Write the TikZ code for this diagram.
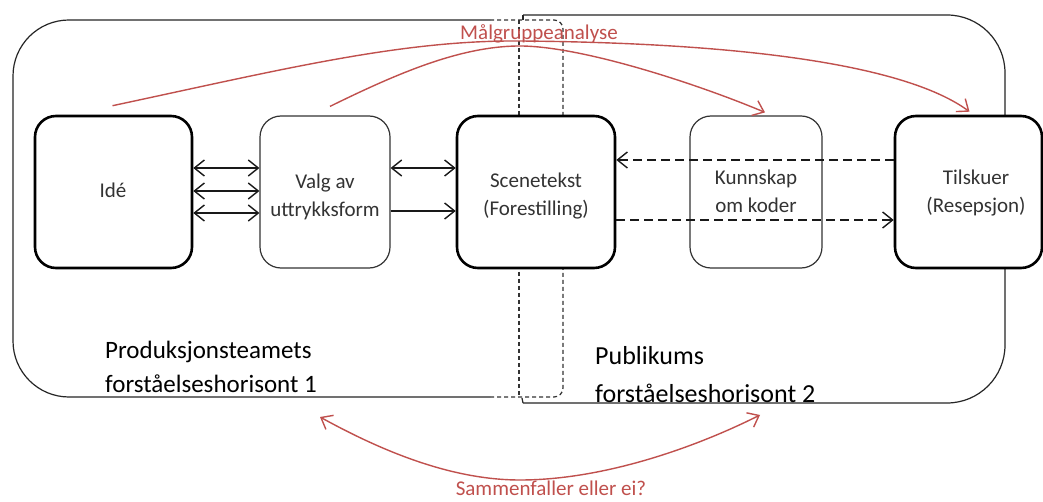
\documentclass[tikz,border=0pt]{standalone}
\usepackage{fontspec}
\setmainfont{Carlito}
\usetikzlibrary{arrows.meta,calc}
\definecolor{redc}{HTML}{C0504D}
\definecolor{txt}{HTML}{333333}
\tikzset{
  thickbox/.style={draw=black,line width=2.6pt,rounded corners=21pt,fill=white,inner sep=0pt},
  thinbox/.style={draw=black!80,line width=1.2pt,rounded corners=21pt,fill=white,inner sep=0pt},
  boxtext/.style={text=txt,font=\fontsize{21}{28}\selectfont,inner sep=0pt,anchor=base},
  horiz/.style={line width=1.2pt,draw=black!85},
  overlap/.style={line width=1.2pt,draw=black!80,dash pattern=on 4pt off 3pt},
  conn/.style={line width=1.4pt,draw=black!90},
  dconn/.style={line width=1.4pt,draw=black!90,dash pattern=on 9pt off 5pt},
  redarrow/.style={line width=1.4pt,draw=redc},
  bigtext/.style={inner sep=0pt,anchor=base west},
  redtext/.style={text=redc,inner sep=0pt,anchor=base}
}
\begin{document}
\begin{tikzpicture}[x=1pt,y=-1pt,>={Straight Barb[length=10pt,width=16pt]}]
\useasboundingbox (0,0) rectangle (1043,502);
\clip (0,0) rectangle (1043,502);
\fill[white] (0,0) rectangle (1043,502);
% horizon 1
\draw[horiz,rounded corners=56pt] (490,20) -- (13,20) -- (13,397) -- (490,397);
\draw[overlap,rounded corners=9pt] (490,20) -- (563,20) -- (563,397) -- (490,397);
\draw[overlap] (519,20) -- (519,397);
% horizon 2
\draw[horiz] (523,20) -- (523,15);
\draw[horiz,rounded corners=58pt] (523,15) -- (1005,15) -- (1005,403) -- (523,403);
\draw[horiz] (523,403) -- (522,398);
% boxes
\node[thickbox,minimum width=157pt,minimum height=152pt] (ide) at (113.5,192) {};
\node[thinbox,minimum width=130pt,minimum height=152pt] (valg) at (325,192) {};
\node[thickbox,minimum width=158pt,minimum height=152pt] (scene) at (536,192) {};
\node[thinbox,minimum width=132pt,minimum height=152pt] (kunn) at (756,192) {};
\node[thickbox,minimum width=147pt,minimum height=152pt] (tilsk) at (968.5,192) {};
% box texts
\node[boxtext] (ide-t) at (113,198) {Idé};
\node[boxtext] (valg-t1) at (325,189) {Valg av};
\node[boxtext] (valg-t2) at (325,217) {uttrykksform};
\node[boxtext] (scene-t1) at (536,188) {Scenetekst};
\node[boxtext] (scene-t2) at (536,216) {(Forestilling)};
\node[boxtext] (kunn-t1) at (756,185) {Kunnskap};
\node[boxtext] (kunn-t2) at (756,213) {om koder};
\node[boxtext] (tilsk-t1) at (976,185) {Tilskuer};
\node[boxtext] (tilsk-t2) at (976,213) {(Resepsjon)};
% connectors
\draw[conn,<->] ($(ide.east)+(0,-24)$) -- ($(valg.west)+(0,-24)$);
\draw[conn,<->] ($(ide.east)+(0,-1)$) -- ($(valg.west)+(0,-1)$);
\draw[conn,<->] ($(ide.east)+(0,21)$) -- ($(valg.west)+(0,21)$);
\draw[conn,<->] ($(valg.east)+(0,-24)$) -- ($(scene.west)+(0,-24)$);
\draw[conn,->] ($(valg.east)+(0,19)$) -- ($(scene.west)+(0,19)$);
\draw[dconn,->] ($(tilsk.west)+(0,-32)$) -- ($(scene.east)+(0,-32)$);
\draw[dconn,->] ($(scene.east)+(0,28)$) -- ($(tilsk.west)+(0,28)$);
% red curves
\coordinate (r1s) at ($(ide.north)+(-1,-9)$);
\coordinate (r1e) at ($(tilsk.north)+(1,-3)$);
\coordinate (r2s) at ($(valg.north)+(5,-9)$);
\coordinate (r2e) at ($(kunn.north)+(9,-3)$);
\draw[redarrow,->] (r1s) .. controls (280,70) and (400,40) .. (520,41) .. controls (760,43) and (910,68) .. (r1e);
\draw[redarrow,->] (r2s) .. controls (400,72) and (460,47) .. (517,46) .. controls (580,45) and (700,85) .. (r2e);
\coordinate (b1) at (320,417);
\coordinate (b2) at (760,415);
\draw[redarrow,<->] (b1) .. controls (380,450) and (450,480) .. (520,480) .. controls (600,480) and (690,450) .. (b2);
% labels
\node[redtext,font=\fontsize{21}{24}\selectfont] (malg) at (539,40) {Målgruppeanalyse};
\node[redtext,font=\fontsize{21}{24}\selectfont] (samm) at (551,495) {Sammenfaller eller ei?};
\node[bigtext,font=\fontsize{25}{30}\selectfont] (h1a) at (105,358) {Produksjonsteamets};
\node[bigtext,font=\fontsize{25}{30}\selectfont] (h1b) at (105,392) {forståelseshorisont 1};
\node[bigtext,font=\fontsize{26}{30}\selectfont] (h2a) at (595,364) {Publikums};
\node[bigtext,font=\fontsize{26}{30}\selectfont] (h2b) at (595,402) {forståelseshorisont 2};
\end{tikzpicture}
\end{document}
